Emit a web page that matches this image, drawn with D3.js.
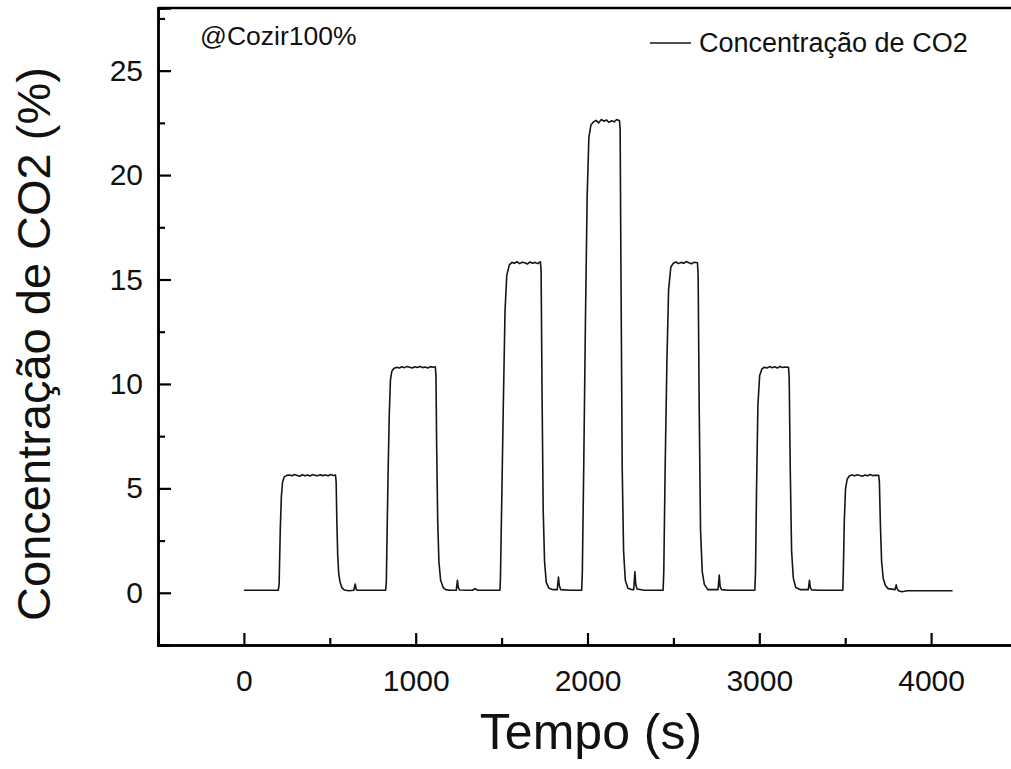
<!DOCTYPE html>
<html>
<head>
<meta charset="utf-8">
<script src="https://cdn.jsdelivr.net/npm/d3@7"></script>
<style>
  html, body { margin: 0; padding: 0; background: #fff; }
  svg { display: block; font-family: "Liberation Sans", Arial, sans-serif; }
</style>
</head>
<body>
<svg id="chart" width="1011" height="769"></svg>
<script>
// ---- Data ----
const timeS = [
  0, 200,
  // step 1 (~5.6 %)
  205, 208, 212, 218, 225, 235, 250, 265, 280, 295, 310, 325, 340, 355, 370, 385, 400, 415, 430, 445, 460, 475, 490, 505, 520, 533,
  537, 541, 546, 552, 560, 570, 585, 610, 640, 648, 654, 662, 700, 760, 825,
  // step 2 (~10.8 %)
  829, 833, 839, 846, 853, 861, 872, 890, 905, 920, 935, 950, 965, 980, 995, 1010, 1025, 1040, 1055, 1070, 1085, 1100, 1114,
  1118, 1122, 1128, 1135, 1145, 1160, 1175, 1200, 1236, 1243, 1248, 1256, 1300, 1330, 1345, 1360, 1490,
  // step 3 (~15.8 %)
  1493, 1500, 1510, 1520, 1530, 1545, 1560, 1575, 1590, 1605, 1620, 1635, 1650, 1665, 1680, 1695, 1710, 1726,
  1730, 1735, 1742, 1750, 1760, 1775, 1800, 1824, 1831, 1836, 1844, 1900, 1966,
  // step 4 (~22.6 %)
  1970, 1978, 1988, 1998, 2008, 2020, 2035, 2050, 2065, 2080, 2095, 2110, 2125, 2140, 2155, 2170, 2186,
  2190, 2195, 2202, 2210, 2220, 2235, 2260, 2269, 2276, 2281, 2288, 2330, 2440,
  // step 5 (~15.8 %)
  2444, 2452, 2462, 2472, 2485, 2500, 2515, 2530, 2545, 2560, 2575, 2590, 2605, 2620, 2640,
  2644, 2650, 2658, 2668, 2680, 2700, 2760, 2767, 2772, 2780, 2820, 2974,
  // step 6 (~10.8 %)
  2978, 2984, 2992, 3002, 3015, 3030, 3045, 3060, 3075, 3090, 3105, 3120, 3135, 3150, 3170,
  3174, 3180, 3188, 3198, 3212, 3240, 3285, 3292, 3297, 3305, 3350, 3486,
  // step 7 (~5.6 %)
  3489, 3495, 3502, 3512, 3525, 3540, 3555, 3570, 3585, 3600, 3615, 3630, 3645, 3660, 3675, 3695,
  3699, 3705, 3712, 3721, 3734, 3750, 3790, 3797, 3802, 3810, 3830, 3860, 4125
];
const co2Pct = [
  0.12, 0.12,
  0.4, 1.6, 3.1, 4.6, 5.3, 5.55, 5.62, 5.64, 5.6, 5.66, 5.62, 5.58, 5.65, 5.6, 5.64, 5.59, 5.66, 5.62, 5.6, 5.65, 5.61, 5.64, 5.6, 5.66, 5.62, 5.64,
  5.3, 3.4, 1.8, 0.9, 0.5, 0.25, 0.13, 0.1, 0.12, 0.42, 0.15, 0.12, 0.12, 0.12, 0.12,
  0.5, 2.6, 5.6, 8.5, 10.2, 10.6, 10.74, 10.8, 10.76, 10.82, 10.78, 10.84, 10.8, 10.76, 10.82, 10.79, 10.84, 10.78, 10.81, 10.76, 10.83, 10.8, 10.82,
  10.4, 7.0, 3.5, 1.5, 0.6, 0.25, 0.15, 0.12, 0.12, 0.6, 0.25, 0.13, 0.12, 0.12, 0.2, 0.12, 0.12,
  0.6, 4.0, 9.0, 13.5, 15.2, 15.7, 15.82, 15.78, 15.85, 15.76, 15.83, 15.8, 15.74, 15.84, 15.78, 15.82, 15.76, 15.85,
  15.4, 10.0, 4.0, 1.5, 0.5, 0.22, 0.15, 0.15, 0.75, 0.35, 0.15, 0.12, 0.12,
  1.0, 6.0, 13.0, 19.0, 21.8, 22.4, 22.55, 22.62, 22.5, 22.66, 22.58, 22.64, 22.52, 22.6, 22.55, 22.66, 22.6,
  22.2, 15.0, 6.0, 2.0, 0.6, 0.22, 0.15, 0.15, 1.0, 0.4, 0.18, 0.12, 0.12,
  1.0, 6.0, 11.0, 14.5, 15.6, 15.78, 15.84, 15.76, 15.82, 15.78, 15.86, 15.8, 15.75, 15.83, 15.8,
  15.2, 9.0, 3.0, 1.0, 0.4, 0.15, 0.15, 0.85, 0.3, 0.15, 0.12, 0.12,
  1.0, 5.0, 9.0, 10.4, 10.72, 10.8, 10.76, 10.83, 10.78, 10.82, 10.76, 10.84, 10.79, 10.81, 10.8,
  10.3, 6.0, 2.0, 0.7, 0.25, 0.15, 0.15, 0.6, 0.25, 0.14, 0.12, 0.12,
  1.0, 3.5, 5.0, 5.45, 5.6, 5.64, 5.6, 5.65, 5.62, 5.58, 5.64, 5.6, 5.66, 5.61, 5.63, 5.62,
  5.3, 3.2, 1.5, 0.7, 0.35, 0.2, 0.15, 0.38, 0.2, 0.1, 0.05, 0.1, 0.1
];
const xMajorTicks = [0, 1000, 2000, 3000, 4000];
const xMinorTicks = [-500, 500, 1500, 2500, 3500];
const yMajorTicks = [0, 5, 10, 15, 20, 25];
const yMinorTicks = [-2.5, 2.5, 7.5, 12.5, 17.5, 22.5, 27.5];
const xTitle = "Tempo (s)";
const yTitle = "Concentração de CO2 (%)";
const seriesName = "Concentração de CO2";
const note = "@Cozir100%";

// ---- Layout ----
const svg = d3.select("#chart");
const L = 158, R = 1017, T = 8, B = 645;
const x = d3.scaleLinear().domain([-500, 4500]).range([L, R]);
const y = d3.scaleLinear().domain([-2.5, 28]).range([B, T]);

svg.append("rect").attr("width", 1011).attr("height", 769).attr("fill", "#fff");

const data = timeS.map((t, i) => ({t, v: co2Pct[i]}));

// data line
const line = d3.line().x(d => x(d.t)).y(d => y(d.v));
svg.append("path")
  .datum(data)
  .attr("fill", "none")
  .attr("stroke", "#151515")
  .attr("stroke-width", 1.6)
  .attr("stroke-linejoin", "round")
  .attr("d", line);

// axes: bottom (ticks inward)
const gx = svg.append("g").attr("transform", `translate(0,${B})`);
gx.call(d3.axisBottom(x).tickValues(xMajorTicks).tickSize(-12).tickPadding(25).tickFormat(d3.format("d")));
gx.selectAll(".tick text").attr("font-size", 30).attr("fill", "#111").attr("font-family", "Liberation Sans, Arial, sans-serif");
const gxm = svg.append("g").attr("transform", `translate(0,${B})`);
gxm.call(d3.axisBottom(x).tickValues(xMinorTicks).tickSize(-7).tickFormat(""));

// left axis (ticks inward)
const gy = svg.append("g").attr("transform", `translate(${L},0)`);
gy.call(d3.axisLeft(y).tickValues(yMajorTicks).tickSize(-13).tickPadding(15).tickFormat(d3.format("d")));
gy.selectAll(".tick text").attr("font-size", 30).attr("fill", "#111").attr("font-family", "Liberation Sans, Arial, sans-serif");
const gym = svg.append("g").attr("transform", `translate(${L},0)`);
gym.call(d3.axisLeft(y).tickValues(yMinorTicks).tickSize(-7).tickFormat(""));

[gx, gxm, gy, gym].forEach(g => {
  g.selectAll(".domain").attr("stroke", "#000").attr("stroke-width", 2.5);
  g.selectAll(".tick line").attr("stroke", "#000").attr("stroke-width", 2.2);
});

// top frame line
svg.append("line")
  .attr("x1", L).attr("x2", R).attr("y1", T).attr("y2", T)
  .attr("stroke", "#000").attr("stroke-width", 2.5);

// axis titles
svg.append("text")
  .attr("x", 591).attr("y", 749)
  .attr("text-anchor", "middle")
  .attr("font-size", 50).attr("fill", "#111")
  .text(xTitle);
svg.append("text")
  .attr("transform", "translate(50,344) rotate(-90)")
  .attr("text-anchor", "middle")
  .attr("font-size", 47).attr("fill", "#111")
  .text(yTitle);

// note
svg.append("text")
  .attr("x", 200).attr("y", 45)
  .attr("font-size", 26.5).attr("fill", "#111")
  .text(note);

// legend
svg.append("line")
  .attr("x1", 650).attr("x2", 691).attr("y1", 43).attr("y2", 43)
  .attr("stroke", "#151515").attr("stroke-width", 1.5);
svg.append("text")
  .attr("x", 699).attr("y", 52)
  .attr("font-size", 27).attr("fill", "#111")
  .text(seriesName);
</script>
</body>
</html>
